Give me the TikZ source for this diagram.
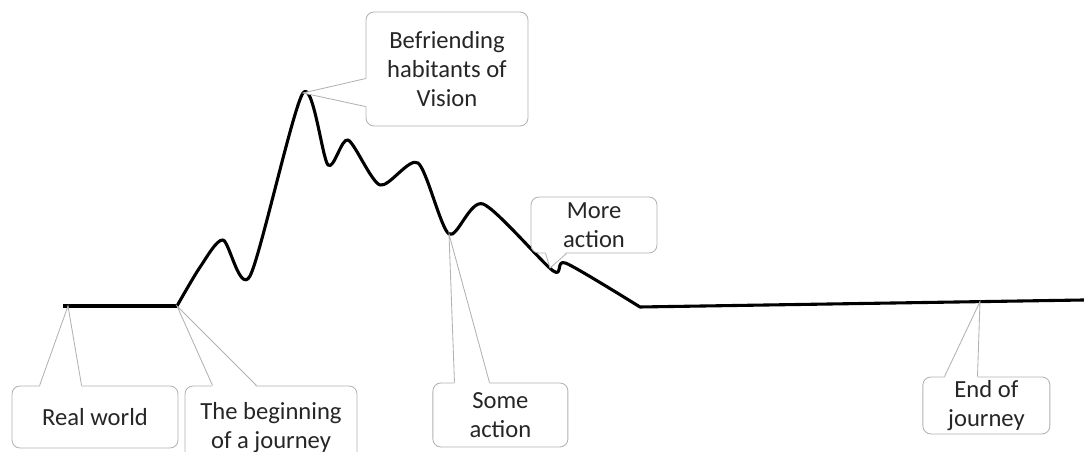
\documentclass[tikz,border=0pt]{standalone}
\usepackage{fontspec}
\setmainfont{Carlito}
\usetikzlibrary{calc}

\begin{document}
\begin{tikzpicture}[
  note/.style={draw=gray!60,fill=white,rounded corners=2mm,line width=0.6pt,
               align=center,text=black!85,inner sep=2pt,
               font=\fontsize{17.5}{20.6}\selectfont},
  tail/.style={draw=gray!60,line width=0.6pt,line join=miter},
  gap/.style={fill=white},
  track/.style={line width=2.2pt,line join=round,line cap=round},
]
\useasboundingbox (0,0) rectangle (27.1,11.3);

% --- the journey line ---
\draw[track,line width=3.1pt,line cap=butt] (1.575,3.65) -- (4.425,3.65);
\draw[track] (4.425,3.65) -- plot[smooth,tension=0.45] coordinates {
  (4.425,3.65) (5.0,4.62) (5.575,5.3) (6.25,4.4) (7.575,8.975)
  (8.2,7.175) (8.7,7.8) (9.5,6.675) (10.45,7.225) (11.225,5.45)
  (12.075,6.2) (13.825,4.53) (14.15,4.72) (16.0,3.625)} -- (27.1,3.8);

% --- points the notes refer to ---
\coordinate (world)  at (1.7,3.65);
\coordinate (depart) at (4.425,3.65);
\coordinate (summit) at (7.575,8.975);
\coordinate (dip)    at (11.225,5.45);
\coordinate (notch)  at (13.75,4.6);
\coordinate (finish) at (24.5,3.76);

% --- notes with their tails ---
\node[note,minimum width=4.15cm,minimum height=1.55cm] (real) at (2.375,0.875) {Real world};
\fill[gap]  ($(real.north west)+(0.7,-0.05)$) -- (world) -- ($(real.north west)+(1.75,-0.05)$) -- cycle;
\draw[tail] ($(real.north west)+(0.7,0)$) -- (world) -- ($(real.north west)+(1.75,0)$);

\node[note,minimum width=4.3cm,minimum height=2.1cm] (begin) at (6.775,0.6) {The beginning\\of a journey};
\fill[gap]  ($(begin.north west)+(0.7,-0.05)$) -- (depart) -- ($(begin.north west)+(1.8,-0.05)$) -- cycle;
\draw[tail] ($(begin.north west)+(0.7,0)$) -- (depart) -- ($(begin.north west)+(1.8,0)$);

\node[note,minimum width=4.05cm,minimum height=2.85cm] (friends) at (11.175,9.575) {Befriending\\habitants of\\Vision};
\fill[gap]  ($(friends.north west)+(0.05,-1.675)$) -- (summit) -- ($(friends.north west)+(0.05,-2.375)$) -- cycle;
\draw[tail] ($(friends.north west)+(0,-1.675)$) -- (summit) -- ($(friends.north west)+(0,-2.375)$);

\node[note,minimum width=3.375cm,minimum height=1.6cm] (some) at (12.51,0.925) {Some\\action};
\fill[gap]  ($(some.north west)+(0.55,-0.05)$) -- (dip) -- ($(some.north west)+(1.425,-0.05)$) -- cycle;
\draw[tail] ($(some.north west)+(0.55,0)$) -- (dip) -- ($(some.north west)+(1.425,0)$);

\node[note,minimum width=3.15cm,minimum height=1.4cm] (more) at (14.85,5.675) {More\\action};
\fill[gap]  ($(more.south west)+(0.375,0.05)$) -- (notch) -- ($(more.south west)+(0.9,0.05)$) -- cycle;
\draw[tail] ($(more.south west)+(0.375,0)$) -- (notch) -- ($(more.south west)+(0.9,0)$);

\node[note,minimum width=3.175cm,minimum height=1.425cm] (end) at (24.66,1.1625) {End of\\journey};
\fill[gap]  ($(end.north west)+(0.55,-0.05)$) -- (finish) -- ($(end.north west)+(1.375,-0.05)$) -- cycle;
\draw[tail] ($(end.north west)+(0.55,0)$) -- (finish) -- ($(end.north west)+(1.375,0)$);

\end{tikzpicture}
\end{document}
